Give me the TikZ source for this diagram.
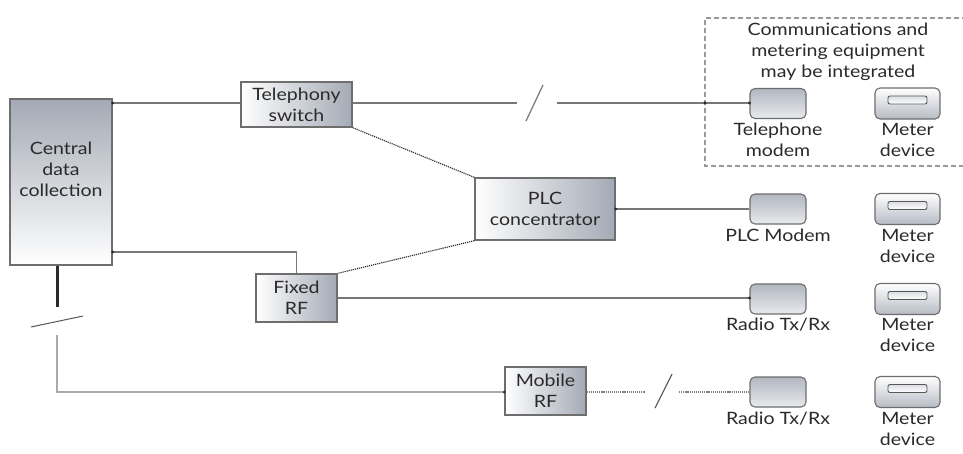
\documentclass[tikz,border=0pt]{standalone}
\usepackage{fontspec}
\setmainfont{Lato}[FakeStretch=1.15]
\usetikzlibrary{calc}
\definecolor{edge}{HTML}{6E6E6E}
\definecolor{boxgray}{HTML}{A4AAB5}
\definecolor{ink}{HTML}{2A2A2A}
\definecolor{wire}{HTML}{777777}
\definecolor{palewire}{HTML}{AAAAAA}
\tikzset{
  unitbox/.style={draw=edge, line width=1.3pt, inner sep=0pt},
  hshade/.style={unitbox, left color=white, right color=boxgray},
  vshade/.style={unitbox, top color=boxgray, bottom color=white},
  modembox/.style={draw=edge, line width=1.1pt, rounded corners=5pt, inner sep=0pt,
    minimum width=56pt, minimum height=30pt, top color=boxgray!85, bottom color=boxgray!25},
  meterbox/.style={draw=edge, line width=1.1pt, rounded corners=5pt, inner sep=0pt,
    minimum width=65pt, minimum height=31pt, top color=white, bottom color=boxgray!80},
  slotbox/.style={draw=edge!80!black, line width=0.9pt, rounded corners=2pt, inner sep=0pt,
    minimum width=39pt, minimum height=8pt, top color=boxgray!40, bottom color=white},
  txt/.style={text=ink, font=\fontsize{17}{21}\selectfont, align=center, inner sep=0pt},
  wireline/.style={draw=wire, line width=1.2pt},
  dotline/.style={draw=ink, line width=1.1pt, dash pattern=on 1.2pt off 0.9pt},
  paleline/.style={draw=palewire, line width=1.6pt},
  heavyline/.style={draw=ink, line width=3pt},
  joint/.style={circle, fill=ink, inner sep=0pt, minimum size=3.2pt},
  zone/.style={draw=gray!80, line width=1.1pt, dash pattern=on 5pt off 3pt},
}
\begin{document}
\begin{tikzpicture}[x=1pt, y=-1pt]
\clip (0,0) rectangle (963,453);
\fill[white] (0,0) rectangle (963,453);

% integration zone around the telephone modem and meter
\draw[zone] (975,18) -- (705,18) -- (705,166) -- (975,166);
\node[txt] (zonetext) at (838,52) {Communications and\\metering equipment\\may be integrated};

% head-end and network boxes
\node[vshade, minimum width=102pt, minimum height=166pt] (central) at (61,182) {};
\node[txt] (centraltext) at (61,169) {Central\\data\\collection};
\node[hshade, minimum width=111pt, minimum height=45pt, txt] (tswitch) at (296.5,104.5) {Telephony\\switch};
\node[hshade, minimum width=140pt, minimum height=62pt, txt] (plc) at (545,209) {PLC\\concentrator};
\node[hshade, minimum width=81pt, minimum height=48pt, txt] (fixedrf) at (296.5,298) {Fixed\\RF};
\node[hshade, minimum width=81pt, minimum height=48pt, txt] (mobilerf) at (545.5,391) {Mobile\\RF};

% customer-side equipment: communication units and meters
\foreach \row/\y in {a/103.5, b/209, c/299, d/392} {
  \node[modembox] (modem\row) at (778,\y) {};
  \node[meterbox] (meter\row) at (907.5,\y) {};
  \node[slotbox] (slot\row) at ($(meter\row)+(0,-3.5)$) {};
}
\node[txt, anchor=north] (modemalabel) at (778,123) {Telephone\\modem};
\node[txt, anchor=north] (modemblabel) at (778,229) {PLC Modem};
\node[txt, anchor=north] (modemclabel) at (778,318) {Radio Tx/Rx};
\node[txt, anchor=north] (modemdlabel) at (778,412) {Radio Tx/Rx};
\foreach \row/\y in {a/123, b/229, c/318, d/412}
  \node[txt, anchor=north] (meter\row label) at (907.5,\y) {Meter\\device};

% telephone path with break mark
\coordinate (tbreakL) at (517,103);
\coordinate (tbreakR) at (557,103);
\coordinate (tslashA) at (526,121);
\coordinate (tslashB) at (543,85);
\coordinate (zonecross) at (705,103);
\draw[wireline] (central.east |- 0,103) -- (tswitch.west |- 0,103);
\draw[wireline] (tswitch.east |- 0,103) -- (tbreakL);
\draw[wireline] (tslashA) -- (tslashB);
\draw[wireline] (tbreakR) -- (modema.west |- 0,103);
\node[joint] at (central.east |- 0,103) {};
\node[joint] at (zonecross) {};
\node[joint] at (modema.west |- 0,103) {};

% PLC links
\draw[dotline] (tswitch.south east) -- (plc.north west);
\draw[dotline] (plc.south west) -- (fixedrf.north east);
\draw[wireline] (plc.east) -- (modemb.west);
\node[joint] at (plc.east) {};

% fixed radio links
\coordinate (fixedturn) at (296.5,252);
\draw[wireline] (central.east |- fixedturn) -- (fixedturn) -- (fixedrf.north);
\node[joint] at (central.east |- fixedturn) {};
\draw[wireline] (fixedrf.east) -- (modemc.west |- fixedrf.east);
\node[joint] at (modemc.west |- fixedrf.east) {};

% mobile radio path with break marks
\coordinate (cbreakT) at (57,307);
\coordinate (cbreakB) at (57,335);
\coordinate (cslashA) at (31,327);
\coordinate (cslashB) at (83,316);
\coordinate (mobileturn) at (57,392);
\draw[heavyline] (central.south -| cbreakT) -- (cbreakT);
\draw[draw=ink!80, line width=1pt] (cslashA) -- (cslashB);
\draw[paleline] (cbreakB) -- (mobileturn) -- (mobilerf.west |- mobileturn);
\node[joint] at (mobilerf.west |- mobileturn) {};
\coordinate (mbreakL) at (645,392);
\coordinate (mbreakR) at (679,392);
\coordinate (mslashA) at (655,408);
\coordinate (mslashB) at (672,374);
\draw[dotline, draw=gray] (mobilerf.east |- mobileturn) -- (mbreakL);
\draw[draw=ink!80, line width=1.1pt] (mslashA) -- (mslashB);
\draw[dotline, draw=gray] (mbreakR) -- (modemd.west |- mobileturn);
\end{tikzpicture}
\end{document}
